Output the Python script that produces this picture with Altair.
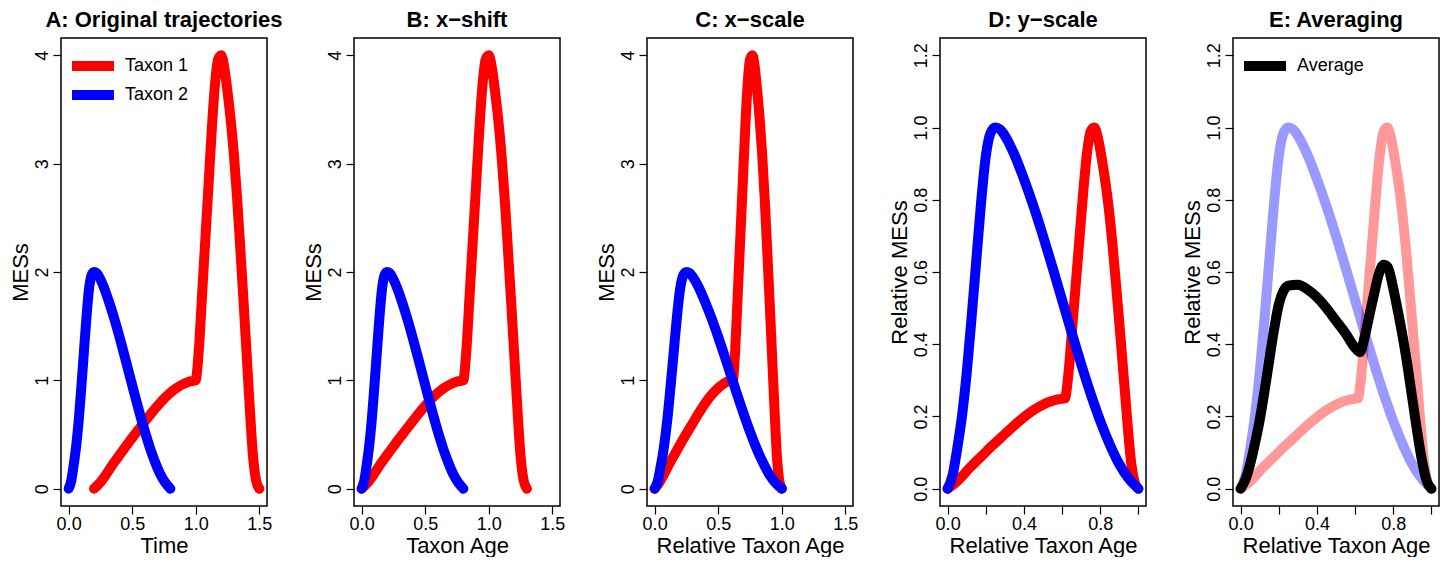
import altair as alt
import pandas as pd

# ---- data ----
taxa = ["Taxon 1", "Taxon 2"]
t1_time = [0.2, 0.25, 0.3, 0.35, 0.4, 0.45, 0.5, 0.55, 0.6, 0.65, 0.7, 0.75, 0.8, 0.85, 0.9, 0.95, 1.0,
           1.01, 1.025, 1.05, 1.075, 1.1, 1.125, 1.15, 1.175, 1.2, 1.225, 1.25, 1.275, 1.3, 1.325,
           1.35, 1.375, 1.4, 1.425, 1.45, 1.475, 1.5]
t1_mes = [0.0, 0.06, 0.14, 0.23, 0.31, 0.39, 0.47, 0.545, 0.62, 0.695, 0.765, 0.83, 0.885, 0.93, 0.965, 0.99, 1.0,
          1.08, 1.3, 1.8, 2.3, 2.8, 3.3, 3.72, 3.96, 4.0, 3.88, 3.66, 3.4, 3.08, 2.68,
          2.22, 1.74, 1.24, 0.74, 0.3, 0.07, 0.0]
t2_time = [0.0, 0.02, 0.04, 0.06, 0.08, 0.1, 0.12, 0.14, 0.16, 0.18, 0.2, 0.22, 0.24, 0.28, 0.32, 0.36,
           0.4, 0.44, 0.48, 0.52, 0.56, 0.6, 0.64, 0.68, 0.72, 0.76, 0.8]
t2_mes = [0.0, 0.07, 0.22, 0.4, 0.64, 0.94, 1.26, 1.58, 1.84, 1.97, 2.0, 1.99, 1.955, 1.85, 1.715, 1.565,
          1.4, 1.225, 1.045, 0.865, 0.69, 0.525, 0.375, 0.245, 0.135, 0.055, 0.0]
avg_age = [0.0, 0.025, 0.05, 0.075, 0.1, 0.125, 0.15, 0.175, 0.2, 0.225, 0.25, 0.3, 0.35, 0.4, 0.45, 0.5,
           0.55, 0.6, 0.625, 0.65, 0.675, 0.7, 0.725, 0.75, 0.77, 0.8, 0.825, 0.85, 0.875, 0.9, 0.925,
           0.95, 0.975, 1.0]
avg_mes = [0.0, 0.025, 0.068, 0.125, 0.19, 0.27, 0.355, 0.44, 0.51, 0.548, 0.562, 0.565, 0.552, 0.53, 0.5,
           0.465, 0.43, 0.39, 0.378, 0.42, 0.48, 0.54, 0.595, 0.62, 0.615, 0.555, 0.49, 0.42, 0.34, 0.25,
           0.16, 0.08, 0.022, 0.0]

FONT = "Liberation Sans"

t1_start, t1_dur, t1_max = t1_time[0], t1_time[-1] - t1_time[0], max(t1_mes)
t2_start, t2_dur, t2_max = t2_time[0], t2_time[-1] - t2_time[0], max(t2_mes)


def frame(kind):
    rows = []
    for name, ts, ms, st, du, mx in [(taxa[0], t1_time, t1_mes, t1_start, t1_dur, t1_max),
                                      (taxa[1], t2_time, t2_mes, t2_start, t2_dur, t2_max)]:
        for i, (t, m) in enumerate(zip(ts, ms)):
            if kind == "A":
                x, y = t, m
            elif kind == "B":
                x, y = t - st, m
            elif kind == "C":
                x, y = (t - st) / du, m
            else:
                x, y = (t - st) / du, m / mx
            rows.append({"taxon": name, "x": x, "y": y, "i": i})
    return pd.DataFrame(rows)


def x_axis(title, values, label_expr=None):
    kw = dict(title=title, values=values, format=".1f", tickSize=8, labelPadding=1,
              labelFontSize=18, titleFontSize=22, titlePadding=2, domain=False, grid=False,
              labelFlush=False, labelOverlap=False, labelFont=FONT, titleFont=FONT,
              labelColor="black", titleColor="black", tickColor="black", tickWidth=1.2,
              titleFontWeight="normal")
    if label_expr:
        kw["labelExpr"] = label_expr
    return alt.Axis(**kw)


def y_axis(title, values, fmt):
    return alt.Axis(title=title, values=values, format=fmt, tickSize=8, labelPadding=2,
                    labelAngle=270, labelAlign="center", labelBaseline="bottom",
                    labelFontSize=18, titleFontSize=22, titlePadding=1, domain=False, grid=False,
                    labelFlush=False, labelOverlap=False, labelFont=FONT, titleFont=FONT,
                    minExtent=28, maxExtent=28, tickWidth=1.2,
                    labelColor="black", titleColor="black", tickColor="black", titleFontWeight="normal")


def legend_box():
    return alt.Legend(title=None, orient="none", legendX=23, legendY=19,
                      symbolType="M-6,0L6,0", symbolSize=49, symbolStrokeWidth=10,
                      labelFontSize=18, labelFont=FONT, labelColor="black", labelOffset=23,
                      rowPadding=-28, padding=0)


LINE = dict(strokeWidth=10, strokeCap="round", strokeJoin="round", interpolate="monotone")
W, H = 206, 468
TITLE = dict(fontSize=22, fontWeight="bold", font=FONT, anchor="middle", offset=6, color="black")

xd15 = [-0.06, 1.56]
xv15 = [0, 0.5, 1.0, 1.5]
xd1 = [-0.04, 1.04]
xv1 = [0, 0.2, 0.4, 0.6, 0.8, 1.0]
yd4 = [-0.16, 4.16]
yv4 = [0, 1, 2, 3, 4]
yd12 = [-0.048, 1.248]
yv12 = [0, 0.2, 0.4, 0.6, 0.8, 1.0, 1.2]
lab_expr = "indexof(['0.0','0.4','0.8'], format(datum.value, '.1f')) >= 0 ? format(datum.value, '.1f') : ''"


def taxa_panel(kind, title, xtitle, xdom, xvals, ytitle, ydom, yvals, yfmt, legend, lexpr=None):
    leg = legend_box() if legend else None
    return alt.Chart(frame(kind)).mark_line(**LINE).encode(
        x=alt.X("x:Q", scale=alt.Scale(domain=xdom, nice=False, zero=False), axis=x_axis(xtitle, xvals, lexpr)),
        y=alt.Y("y:Q", scale=alt.Scale(domain=ydom, nice=False, zero=False), axis=y_axis(ytitle, yvals, yfmt)),
        color=alt.Color("taxon:N", scale=alt.Scale(domain=taxa, range=["#FF0000", "#0000FF"]), legend=leg),
        order="i:Q",
    ).properties(width=W, height=H, title=alt.TitleParams(title, **TITLE))


pA = taxa_panel("A", "A: Original trajectories", "Time", xd15, xv15, "MESs", yd4, yv4, ".0f", True)
pB = taxa_panel("B", "B: x\u2212shift", "Taxon Age", xd15, xv15, "MESs", yd4, yv4, ".0f", False)
pC = taxa_panel("C", "C: x\u2212scale", "Relative Taxon Age", xd15, xv15, "MESs", yd4, yv4, ".0f", False)
pD = taxa_panel("D", "D: y\u2212scale", "Relative Taxon Age", xd1, xv1, "Relative MESs", yd12, yv12, ".1f",
                False, lab_expr)

dfE = frame("D")
avg_df = pd.DataFrame({"series": "Average", "x": avg_age, "y": avg_mes, "i": range(len(avg_age))})
xE = alt.X("x:Q", scale=alt.Scale(domain=xd1, nice=False, zero=False),
           axis=x_axis("Relative Taxon Age", xv1, lab_expr))
yE = alt.Y("y:Q", scale=alt.Scale(domain=yd12, nice=False, zero=False),
           axis=y_axis("Relative MESs", yv12, ".1f"))
e_red = alt.Chart(dfE[dfE.taxon == taxa[0]]).mark_line(opacity=0.4, color="#FF0000", **LINE).encode(
    x=xE, y=yE, order="i:Q")
e_blue = alt.Chart(dfE[dfE.taxon == taxa[1]]).mark_line(opacity=0.4, color="#0000FF", **LINE).encode(
    x=xE, y=yE, order="i:Q")
e_avg = alt.Chart(avg_df).mark_line(**LINE).encode(
    x=xE, y=yE, order="i:Q",
    color=alt.Color("series:N", scale=alt.Scale(domain=["Average"], range=["#000000"]),
                    legend=legend_box()),
)
pE = alt.layer(e_red, e_blue, e_avg).properties(width=W, height=H,
                                                title=alt.TitleParams("E: Averaging", **TITLE))

chart = alt.hconcat(pA, pB, pC, pD, pE, spacing=87, bounds="flush").resolve_scale(
    color="independent").resolve_legend(color="independent").properties(padding=0).configure(
    background="white").configure_view(stroke="black", strokeWidth=1.5)

chart.save("out.html", embed_options={"renderer": "svg", "actions": False})
